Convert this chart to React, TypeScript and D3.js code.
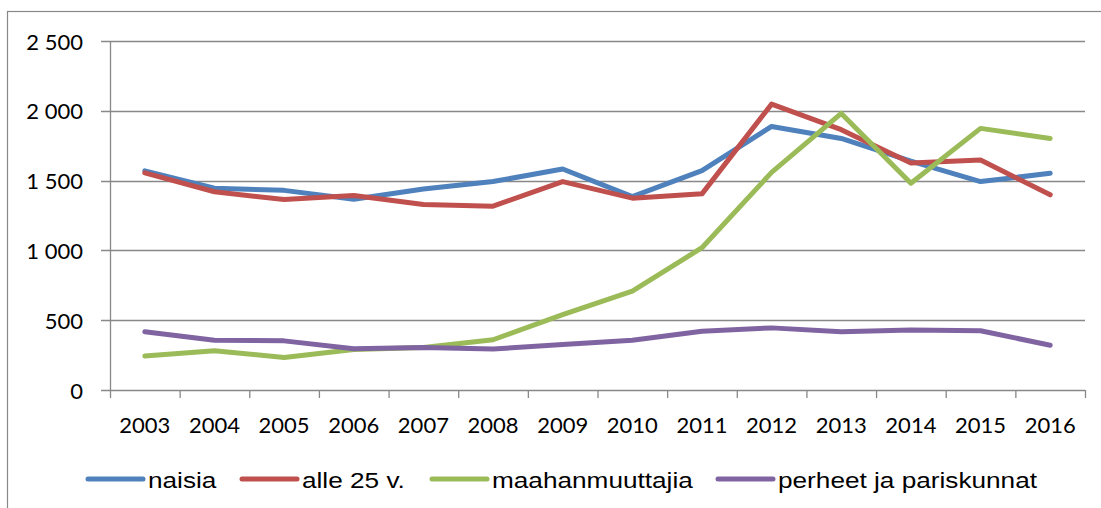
import React from "react";
import * as d3 from "d3";

const years = ["2003","2004","2005","2006","2007","2008","2009","2010","2011","2012","2013","2014","2015","2016"];
const naisia = [1570, 1445, 1430, 1366, 1440, 1493, 1583, 1385, 1571, 1888, 1802, 1640, 1493, 1552];
const alle25 = [1555, 1420, 1364, 1393, 1329, 1317, 1493, 1374, 1405, 2048, 1865, 1626, 1648, 1398];
const maahanmuuttajia = [243, 281, 233, 290, 305, 360, 540, 709, 1019, 1559, 1981, 1481, 1874, 1802];
const perheet = [417, 357, 352, 295, 305, 293, 326, 357, 421, 445, 417, 429, 424, 321];
const yTicks = [0, 500, 1000, 1500, 2000, 2500];
const seriesNames = ["naisia", "alle 25 v.", "maahanmuuttajia", "perheet ja pariskunnat"];
const colors = ["#4F81BD", "#C0504D", "#9BBB59", "#8064A2"];

const W = 1101, H = 508;
const left = 110, right = 1085, top = 41, bottom = 390;
const grid = "#888888";
const numFont = "Lato, 'Open Sans', sans-serif";
const legFont = "'Liberation Sans', Arial, sans-serif";

export default function App() {
  const x = d3.scaleBand<string>().domain(years).range([left, right]).padding(0);
  const y = d3.scaleLinear().domain([0, 2500]).range([bottom, top]);
  const all = [naisia, alle25, maahanmuuttajia, perheet];
  const line = d3.line<number>()
    .x((_, i) => (x(years[i]) as number) + x.bandwidth() / 2)
    .y((d) => y(d));
  const fmt = (v: number) => {
    const s = String(v);
    return s.length > 3 ? s.slice(0, s.length - 3) + " " + s.slice(-3) : s;
  };
  const legendX = [88, 242, 432, 718];
  const legendY = 479;
  return (
    <svg width={W} height={H} style={{ position: "absolute", left: 0, top: 0, background: "#fff" }}>
      <rect x={7.5} y={11.5} width={1100} height={510} fill="#fff" stroke={grid} strokeWidth={1.2} />
      {yTicks.map((t) => (
        <g key={t}>
          <line x1={left - 9} x2={right} y1={Math.round(y(t)) + 0.5} y2={Math.round(y(t)) + 0.5} stroke={grid} strokeWidth={1.3} />
          <text x={83} y={y(t) + 8.5} textAnchor="end" fontFamily={numFont} fontSize={22} fill="#000">{fmt(t)}</text>
        </g>
      ))}
      <line x1={left + 0.5} x2={left + 0.5} y1={top} y2={bottom + 8} stroke={grid} strokeWidth={1.3} />
      {years.map((yr, i) => (
        <g key={yr}>
          <line x1={(x(yr) as number) + x.bandwidth() + 0.5} x2={(x(yr) as number) + x.bandwidth() + 0.5} y1={bottom} y2={bottom + 8} stroke={grid} strokeWidth={1.3} />
          <text x={(x(yr) as number) + x.bandwidth() / 2} y={433} textAnchor="middle" fontFamily={numFont} fontSize={22} fill="#000">{yr}</text>
        </g>
      ))}
      {all.map((s, k) => (
        <path key={k} d={line(s) || ""} fill="none" stroke={colors[k]} strokeWidth={5} strokeLinejoin="round" strokeLinecap="round" />
      ))}
      {seriesNames.map((n, k) => (
        <g key={n}>
          <line x1={legendX[k]} x2={legendX[k] + 55} y1={legendY} y2={legendY} stroke={colors[k]} strokeWidth={5} strokeLinecap="round" />
          <text transform={`translate(${legendX[k] + 60},${legendY + 9}) scale(1.19,1)`} fontFamily={legFont} fontSize={22} fill="#000">{n}</text>
        </g>
      ))}
    </svg>
  );
}
